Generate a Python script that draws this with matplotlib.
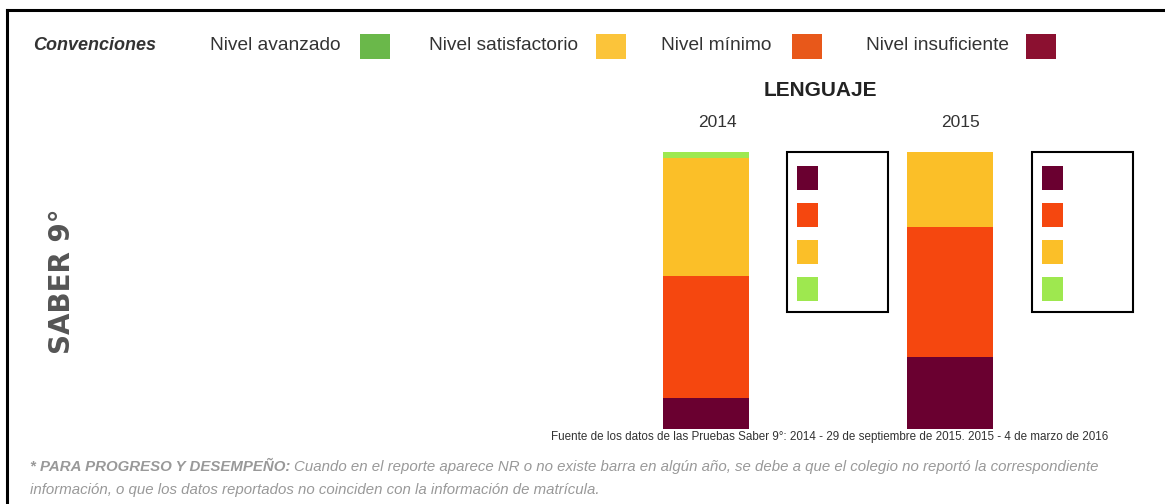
import matplotlib
matplotlib.use("Agg")
import matplotlib.pyplot as plt
import matplotlib.patches as patches
import numpy as np

# Datos (porcentaje de estudiantes por nivel) - Lenguaje, Saber 9
years = ['2014', '2015']
niveles = ['Nivel insuficiente', 'Nivel mínimo', 'Nivel satisfactorio', 'Nivel avanzado']
insuficiente = [11, 26]
minimo = [44, 47]
satisfactorio = [43, 27]
avanzado = [2, 0]

# Colores
bar_colors = ['#6a0030', '#f5470f', '#fbbf28', '#9ee84f']
head_colors = {'Nivel avanzado': '#6ab84a', 'Nivel satisfactorio': '#fbc43a',
               'Nivel mínimo': '#e8581a', 'Nivel insuficiente': '#8b1030'}

NARROW = ['Liberation Sans Narrow', 'Liberation Sans', 'DejaVu Sans']

W, H = 1165, 504
fig = plt.figure(figsize=(W / 100, H / 100), dpi=100)
fig.patch.set_facecolor('white')

# Capa de fondo en pixeles para decoraciones
bg = fig.add_axes([0, 0, 1, 1])
bg.set_xlim(0, W)
bg.set_ylim(H, 0)
bg.axis('off')

# Marco (solo arriba e izquierda, imagen recortada)
bg.plot([7, W], [10, 10], color='black', lw=2.2)
bg.plot([7, 7], [10, H], color='black', lw=2.2)

# Encabezado de convenciones
bg.text(33, 46, 'Convenciones', family=NARROW, fontsize=13, fontweight='bold',
        fontstyle='italic', color='#333333', ha='left', va='center')
header = [('Nivel avanzado', 210, 360), ('Nivel satisfactorio', 429, 596),
          ('Nivel mínimo', 661, 792), ('Nivel insuficiente', 866, 1026)]
for label, tx, sx in header:
    bg.text(tx, 45, label, family=NARROW, fontsize=13.8, color='#333333',
            ha='left', va='center')
    bg.add_patch(patches.Rectangle((sx, 34), 30, 25, facecolor=head_colors[label],
                                   edgecolor='none'))

# Titulo lateral
bg.text(62, 281, 'SABER 9°', rotation=90, fontsize=20, fontweight='bold',
        color='#555555', ha='center', va='center')

# Titulo materia
bg.text(820, 91, 'LENGUAJE', family=['Liberation Sans', 'DejaVu Sans'],
        fontsize=15, fontweight='bold', color='#222222', ha='center', va='center')

# Barras apiladas
ax = fig.add_axes([584 / W, 75.5 / H, 488 / W, 276.5 / H])
ax.set_xlim(-0.5, 1.5)
ax.set_ylim(0, 100)
ax.axis('off')
x = np.arange(len(years))
series = [insuficiente, minimo, satisfactorio, avanzado]
bottom = np.zeros(len(years))
for vals, col in zip(series, bar_colors):
    ax.bar(x, vals, width=0.352, bottom=bottom, color=col, edgecolor='none')
    bottom += np.array(vals)
for i, yr in enumerate(years):
    ax.text(x[i] + 0.045, 110.5, yr, family=NARROW, fontsize=12.5, color='#333333',
            ha='center', va='center')

# Cajas de leyenda junto a cada barra
for bx in [787, 1032]:
    bg.add_patch(patches.Rectangle((bx, 152), 101, 160, facecolor='none',
                                   edgecolor='black', lw=1.5))
    for k, col in enumerate(bar_colors):
        bg.add_patch(patches.Rectangle((bx + 10, 166 + k * 37), 21, 24,
                                       facecolor=col, edgecolor='none'))

# Fuente
bg.text(1108, 437, 'Fuente de los datos de las Pruebas Saber 9°: 2014 - 29 de septiembre de 2015. 2015 - 4 de marzo de 2016',
        family=NARROW, fontsize=8.4, color='#333333', ha='right', va='center')

# Nota al pie
t1 = bg.text(30, 467, '* PARA PROGRESO Y DESEMPEÑO:', family=NARROW, fontsize=10.8,
             fontweight='bold', fontstyle='italic', color='#999999', ha='left', va='center')
fig.canvas.draw()
bb = t1.get_window_extent()
x_end = bb.x1 / fig.dpi * 100
bg.text(x_end + 4, 467, 'Cuando en el reporte aparece NR o no existe barra en algún año, se debe a que el colegio no reportó la correspondiente',
        family=NARROW, fontsize=10.8, fontstyle='italic', color='#999999',
        ha='left', va='center')
bg.text(30, 490, 'información, o que los datos reportados no coinciden con la información de matrícula.',
        family=NARROW, fontsize=10.8, fontstyle='italic', color='#999999',
        ha='left', va='center')

fig.savefig('out.png', dpi=100, facecolor='white')
